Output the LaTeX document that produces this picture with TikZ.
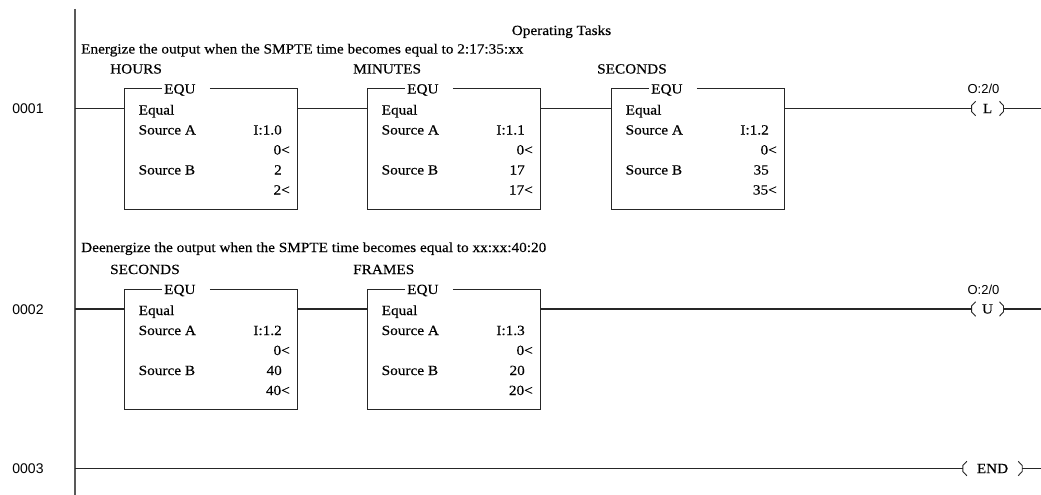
\documentclass[tikz,border=0pt]{standalone}
\usepackage{fontspec}
\setmainfont{Liberation Serif}[FakeStretch=1.09, FakeBold=0.3]
\newfontfamily\lblfont{Liberation Sans}
\tikzset{
  wire/.style={line width=1.2pt, black!85},
  railline/.style={line width=1.8pt, black!65},
  brk/.style={line width=0.9pt, black!85},
  txt/.style={inner sep=0pt, font=\fontsize{14}{16}\selectfont},
  lbl/.style={inner sep=0pt, font=\lblfont\fontsize{14}{16}\selectfont},
  addr/.style={inner sep=0pt, font=\lblfont\fontsize{13}{15}\selectfont},
  equbox/.style={minimum width=172pt, minimum height=120pt, inner sep=0pt},
  coil/.style={minimum height=14pt, inner sep=0pt, font=\fontsize{14}{16}\selectfont},
}
\newcommand{\EquBox}[6]{%
  \node[equbox] (#1) at ({#2+86},{#3+40.5}) {};
  \node[txt, anchor=base west] (#1-lab) at ({#2-15},{#3-35}) {#4};
  \node[txt, anchor=base west] (#1-equ) at ({#2+39},{#3-15}) {EQU};
  \draw[wire] ([xshift=85pt]#1.north west) -- (#1.north east) -- (#1.south east) -- (#1.south west) -- (#1.north west) -- ([xshift=37pt]#1.north west);
  \node[txt, anchor=base west] (#1-eq) at ({#2+13.5},{#3+6}) {Equal};
  \node[txt, anchor=base west] (#1-sa) at ({#2+13.5},{#3+26}) {Source A};
  \node[txt, anchor=base east] (#1-va) at ({#2+157},{#3+26}) {#5};
  \node[txt, anchor=base east] (#1-ra) at ({#2+165},{#3+46}) {0\textless};
  \node[txt, anchor=base west] (#1-sb) at ({#2+13.5},{#3+66}) {Source B};
  \node[txt, anchor=base east] (#1-vb) at ({#2+157},{#3+66}) {#6};
  \node[txt, anchor=base east] (#1-rb) at ({#2+165},{#3+86}) {#6\textless};
}
\newcommand{\CoilBrackets}[1]{%
  \draw[brk] ([xshift=4pt]#1.north west) -- ([yshift=3pt]#1.west) -- ([yshift=-3pt]#1.west) -- ([xshift=4pt]#1.south west);
  \draw[brk] ([xshift=-4pt]#1.north east) -- ([yshift=3pt]#1.east) -- ([yshift=-3pt]#1.east) -- ([xshift=-4pt]#1.south east);
}
\begin{document}
\begin{tikzpicture}[x=1pt, y=-1pt]
  \fill[white] (0,0) rectangle (1041,495);
  \useasboundingbox (0,0) rectangle (1041,495);
  % power rail
  \coordinate (railtop) at (75,9);
  \coordinate (railbot) at (75,495);
  \draw[railline] (railtop) -- (railbot);
  % titles
  \node[txt, anchor=base] (title) at (561.5,35) {Operating Tasks};
  \node[txt, anchor=base west] (d1) at (81,53.5) {Energize the output when the SMPTE time becomes equal to 2:17:35:xx};
  \node[txt, anchor=base west] (d2) at (81,252) {Deenergize the output when the SMPTE time becomes equal to xx:xx:40:20};
  % rung numbers
  \node[lbl, anchor=base] (n1) at (28,113.5) {0001};
  \node[lbl, anchor=base] (n2) at (28,314) {0002};
  \node[lbl, anchor=base] (n3) at (28,473.5) {0003};
  % rung 1
  \coordinate (r1) at (75,108.5);
  \coordinate (e1) at (1041,108.5);
  \EquBox{b1}{125}{108.5}{HOURS}{I:1.0}{2}
  \EquBox{b2}{368}{108.5}{MINUTES}{I:1.1}{17}
  \EquBox{b3}{612}{108.5}{SECONDS}{I:1.2}{35}
  \node[coil, minimum width=31.5pt] (cL) at (987.5,108.5) {L};
  \CoilBrackets{cL}
  \node[addr, anchor=base] (aL) at (983.5,93.5) {O:2/0};
  \draw[wire] (r1) -- (b1.west |- r1);
  \draw[wire] (b1.east |- r1) -- (b2.west |- r1);
  \draw[wire] (b2.east |- r1) -- (b3.west |- r1);
  \draw[wire] (b3.east |- r1) -- (cL.west);
  \draw[wire] (cL.east) -- (e1);
  % rung 2
  \coordinate (r2) at (75,309);
  \coordinate (e2) at (1041,309);
  \EquBox{b4}{125}{309}{SECONDS}{I:1.2}{40}
  \EquBox{b5}{368}{309}{FRAMES}{I:1.3}{20}
  \node[coil, minimum width=31.5pt] (cU) at (987.5,309) {U};
  \CoilBrackets{cU}
  \node[addr, anchor=base] (aU) at (983.5,294) {O:2/0};
  \draw[wire] (r2) -- (b4.west |- r2);
  \draw[wire] (b4.east |- r2) -- (b5.west |- r2);
  \draw[wire] (b5.east |- r2) -- (cU.west);
  \draw[wire] (cU.east) -- (e2);
  % rung 3
  \coordinate (r3) at (75,468.5);
  \coordinate (e3) at (1041,468.5);
  \node[coil, minimum width=59pt] (cE) at (992.5,468.5) {END};
  \CoilBrackets{cE}
  \draw[wire] (r3) -- (cE.west);
  \draw[wire] (cE.east) -- (e3);
\end{tikzpicture}
\end{document}
